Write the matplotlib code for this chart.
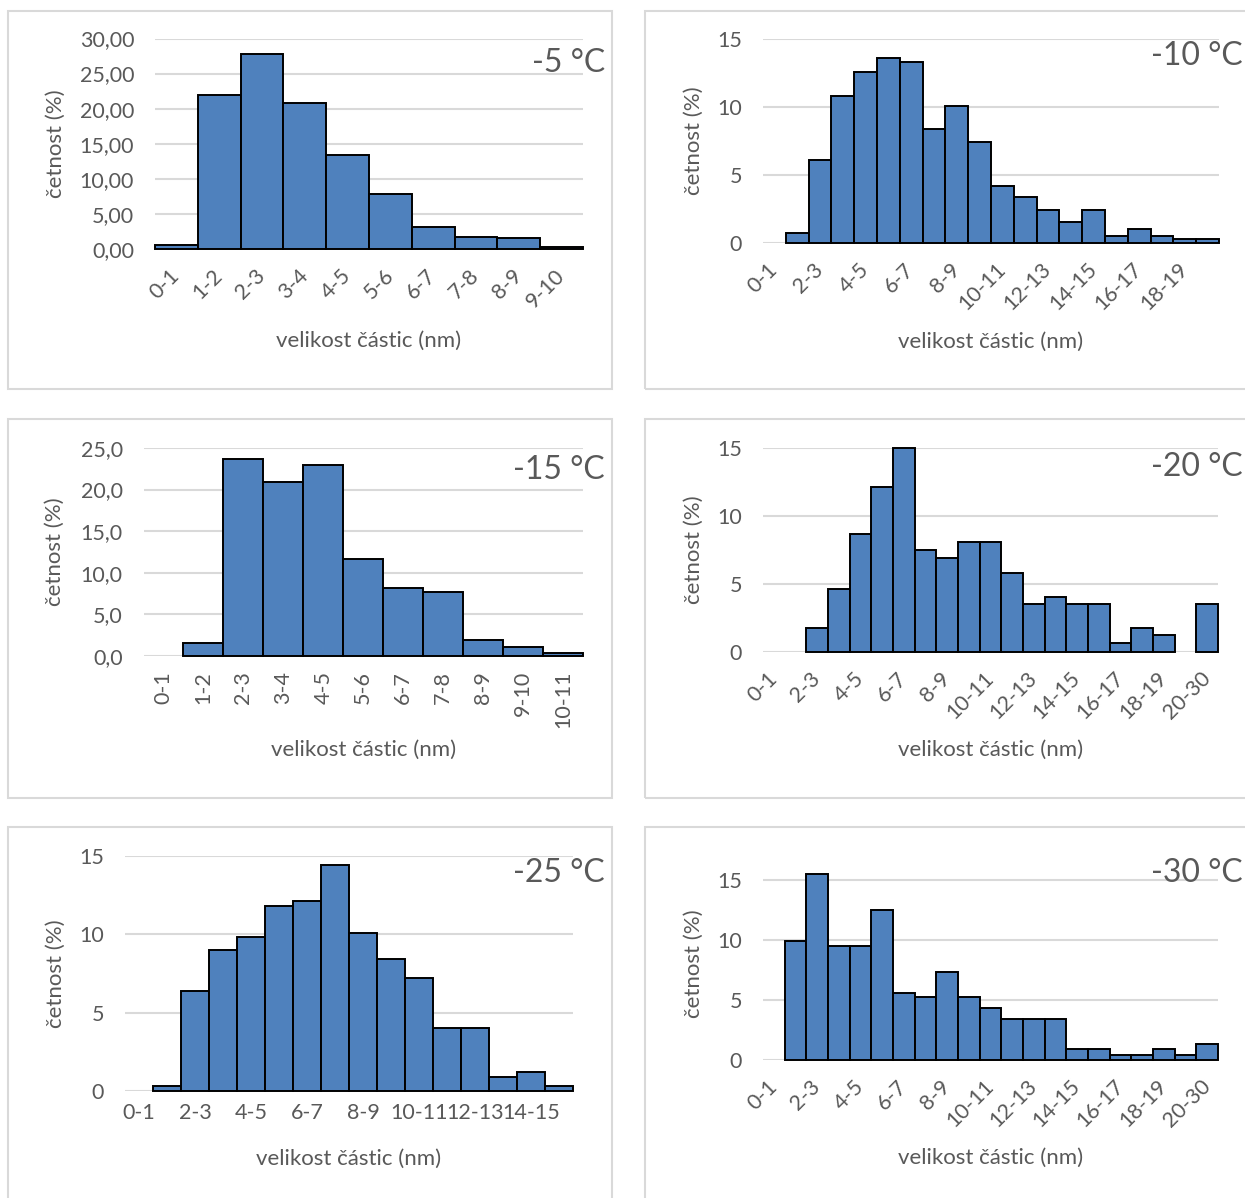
import matplotlib
matplotlib.use('Agg')
import matplotlib.pyplot as plt
from matplotlib.patches import Rectangle
from matplotlib.ticker import FuncFormatter

plt.rcParams['font.family'] = ['Lato', 'DejaVu Sans']

W, H = 1245, 1198
TEXT = '#595959'
GRID = '#d9d9d9'
BAR = '#4f81bd'
TICK_FS = 15.5
LABEL_FS = 16

# size classes (nm)
cats_10 = ['%d-%d' % (i, i + 1) for i in range(10)]
cats_11 = ['%d-%d' % (i, i + 1) for i in range(11)]
cats_16 = ['%d-%d' % (i, i + 1) for i in range(16)]
cats_20 = ['%d-%d' % (i, i + 1) for i in range(20)]
cats_21 = cats_20 + ['20-30']

# frequency (%) per size class
t5_values = [0.5, 22.0, 27.8, 20.8, 13.4, 7.8, 3.1, 1.7, 1.5, 0.25]
t10_values = [0, 0.7, 6.1, 10.8, 12.6, 13.6, 13.3, 8.4, 10.1, 7.4,
              4.2, 3.4, 2.4, 1.5, 2.4, 0.5, 1.0, 0.5, 0.25, 0.25]
t15_values = [0, 1.5, 23.7, 20.9, 22.9, 11.6, 8.1, 7.7, 1.9, 1.1, 0.3]
t20_values = [0, 0, 1.75, 4.6, 8.7, 12.1, 15.0, 7.5, 6.9, 8.1, 8.1,
              5.8, 3.5, 4.0, 3.5, 3.5, 0.6, 1.75, 1.2, 0, 3.5]
t25_values = [0, 0.3, 6.4, 9.0, 9.8, 11.8, 12.1, 14.4, 10.1, 8.4,
              7.2, 4.0, 4.0, 0.9, 1.2, 0.3]
t30_values = [0, 9.9, 15.5, 9.5, 9.5, 12.5, 5.6, 5.2, 7.3, 5.2, 4.3,
              3.4, 3.4, 3.4, 0.9, 0.9, 0.4, 0.4, 0.9, 0.4, 1.3]

temps = ['-5 °C', '-10 °C', '-15 °C', '-20 °C', '-25 °C', '-30 °C']

fig = plt.figure(figsize=(W / 100, H / 100), dpi=100)


def px_axes(left, right, top, bottom):
    return fig.add_axes([left / W, 1 - bottom / H, (right - left) / W, (bottom - top) / H])


def frame(left, top, right, bottom):
    fig.patches.append(Rectangle((left / W, 1 - bottom / H), (right - left) / W,
                                 (bottom - top) / H, transform=fig.transFigure,
                                 fill=False, edgecolor=GRID, linewidth=1.5))


def draw_panel(cats, vals, temp, box, plot, ymax, yticks, decimals, rot, step,
               xlab_y, temp_xy, ylab_x):
    frame(*box)
    left, right, top0, zero = plot
    ax = px_axes(left, right, top0, zero)
    n = len(cats)
    # empty classes get no bar at all
    xs = [i for i in range(n) if vals[i] > 0]
    ax.bar(xs, [vals[i] for i in xs], width=1.0, color=BAR, edgecolor='black',
           linewidth=1.4, zorder=3, clip_on=False)
    ax.set_xlim(-0.5, n - 0.5)
    ax.set_ylim(0, ymax)
    ax.set_yticks(yticks)
    ax.yaxis.set_major_formatter(FuncFormatter(
        lambda v, p: ('%.*f' % (decimals, v)).replace('.', ',')))
    ax.grid(axis='y', color=GRID, linewidth=1.5, zorder=0)
    for s in ax.spines.values():
        s.set_visible(False)
    ax.tick_params(axis='y', length=0, pad=15, labelsize=TICK_FS, labelcolor=TEXT)
    ticks = list(range(0, n, step))
    ax.set_xticks(ticks)
    if rot == 45:
        ax.set_xticklabels([cats[i] for i in ticks], rotation=45, ha='right',
                           va='center', rotation_mode='anchor')
        ax.tick_params(axis='x', length=0, pad=17, labelsize=TICK_FS, labelcolor=TEXT)
    elif rot == 90:
        ax.set_xticklabels([cats[i] for i in ticks], rotation=90, ha='center', va='top')
        ax.tick_params(axis='x', length=0, pad=11, labelsize=TICK_FS, labelcolor=TEXT)
    else:
        ax.set_xticklabels([cats[i] for i in ticks])
        ax.tick_params(axis='x', length=0, pad=9, labelsize=TICK_FS, labelcolor=TEXT)
    fig.text((left + right) / 2 / W, 1 - xlab_y / H, 'velikost částic (nm)',
             ha='center', va='center', fontsize=LABEL_FS, color=TEXT)
    fig.text(ylab_x / W, 1 - (top0 + zero) / 2 / H, 'četnost (%)', rotation=90,
             ha='center', va='center', fontsize=LABEL_FS, color=TEXT)
    fig.text(temp_xy[0] / W, 1 - temp_xy[1] / H, temp, ha='right', va='baseline',
             fontsize=23, color=TEXT)
    return ax


draw_panel(cats_10, t5_values, temps[0], (8, 11, 612, 389), (155, 583, 38.5, 249),
           30, [0, 5, 10, 15, 20, 25, 30], 2, 45, 1, 341, (605, 72), 56)
draw_panel(cats_20, t10_values, temps[1], (645, 11, 1260, 389), (763, 1219, 39.3, 242.6),
           15, [0, 5, 10, 15], 0, 45, 2, 342, (1243, 65), 694)
draw_panel(cats_11, t15_values, temps[2], (8, 419, 612, 798), (143.5, 583, 448, 655.7),
           25, [0, 5, 10, 15, 20, 25], 1, 90, 1, 750, (605, 479), 55)
draw_panel(cats_21, t20_values, temps[3], (645, 419, 1260, 798), (763, 1218, 448, 651.6),
           15, [0, 5, 10, 15], 0, 45, 2, 750, (1243, 476), 694)
draw_panel(cats_16, t25_values, temps[4], (8, 827, 612, 1210), (125, 573, 856, 1090.8),
           15, [0, 5, 10, 15], 0, 0, 2, 1159, (605, 882), 56)
draw_panel(cats_21, t30_values, temps[5], (645, 827, 1260, 1210), (763, 1218, 868, 1059.6),
           16, [0, 5, 10, 15], 0, 45, 2, 1158, (1243, 882), 694)

fig.savefig('out.png', dpi=100, facecolor='white')
